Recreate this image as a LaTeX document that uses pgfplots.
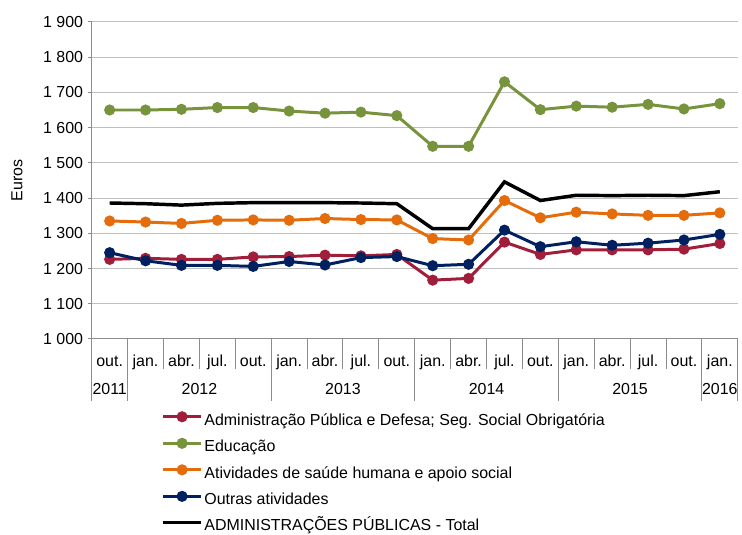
\documentclass[border=0pt]{standalone}
\usepackage{pgfplots}
\pgfplotsset{compat=1.18}
\usepackage{fontspec}
\setmainfont{Liberation Sans}
\definecolor{cRed}{RGB}{160,30,58}
\definecolor{cGreen}{RGB}{119,147,60}
\definecolor{cOrange}{RGB}{228,108,10}
\definecolor{cBlue}{RGB}{0,32,96}
\definecolor{cGrid}{RGB}{191,191,191}
\definecolor{cAxis}{RGB}{140,140,140}
\newcommand{\fs}{\fontsize{12}{14.4}\selectfont}
\begin{document}
\begin{tikzpicture}
\begin{axis}[
  name=ax,
  at={(0,0)}, anchor=south west,
  scale only axis,
  width=486pt, height=238.5pt,
  xmin=-0.5, xmax=17.5,
  ymin=1000, ymax=1900,
  ytick={1000,1100,...,1900},
  yticklabels={1 000,1 100,1 200,1 300,1 400,1 500,1 600,1 700,1 800,1 900},
  xtick={0,...,17},
  xticklabels={out.,jan.,abr.,jul.,out.,jan.,abr.,jul.,out.,jan.,abr.,jul.,out.,jan.,abr.,jul.,out.,jan.},
  minor xtick={-0.5,0.5,...,17.5},
  major x tick style={draw=none},
  minor x tick style={draw=cAxis, line width=0.75pt},
  minor tick length=22.5pt,
  major tick length=3pt,
  tick align=outside,
  ytick style={draw=cAxis, line width=0.75pt},
  axis x line*=bottom, axis y line*=left,
  axis line style={draw=cAxis, line width=0.75pt, -},
  ymajorgrids,
  grid style={draw=cGrid, line width=0.75pt},
  tick label style={font=\fs},
  xticklabel style={anchor=base, yshift=-18pt},
  yticklabel style={anchor=east},
  ylabel={Euros},
  label style={font=\fs},
  ylabel style={at={(axis description cs:-0.1157,0.5)}, anchor=center, rotate=0},
  clip=false,
  legend style={font=\fs, draw=none, fill=none, inner sep=0pt,
    at={(axis description cs:0.108,-0.232)}, anchor=north west,
    legend cell align=left, row sep=8pt, column sep=1.5pt,
    nodes={inner sep=0pt, text height=9pt, text depth=2.5pt}},
  legend image code/.code={\draw[mark repeat=2,mark phase=2] plot coordinates {(0pt,3.2pt) (14pt,3.2pt) (28pt,3.2pt)};},
  every axis plot/.append style={line width=2.25pt, mark=*, mark size=3pt, mark options={solid}},
]
\addplot[cRed, mark options={fill=cRed, draw=cRed}] coordinates {
(0,1226)(1,1229)(2,1226)(3,1226)(4,1233)(5,1234)(6,1238)(7,1236)(8,1240)(9,1167)(10,1172)(11,1275)(12,1240)(13,1253)(14,1253)(15,1253)(16,1255)(17,1271)};
\addlegendentry{Administração Pública e Defesa; Seg. Social Obrigatória}
\addplot[cGreen, mark options={fill=cGreen, draw=cGreen}] coordinates {
(0,1650)(1,1650)(2,1652)(3,1657)(4,1657)(5,1647)(6,1641)(7,1644)(8,1634)(9,1547)(10,1547)(11,1730)(12,1651)(13,1661)(14,1658)(15,1666)(16,1653)(17,1668)};
\addlegendentry{Educação}
\addplot[cOrange, mark options={fill=cOrange, draw=cOrange}] coordinates {
(0,1335)(1,1332)(2,1328)(3,1337)(4,1338)(5,1337)(6,1342)(7,1339)(8,1338)(9,1285)(10,1281)(11,1393)(12,1344)(13,1360)(14,1355)(15,1351)(16,1351)(17,1358)};
\addlegendentry{Atividades de saúde humana e apoio social}
\addplot[cBlue, mark options={fill=cBlue, draw=cBlue}] coordinates {
(0,1245)(1,1222)(2,1209)(3,1209)(4,1206)(5,1220)(6,1210)(7,1231)(8,1234)(9,1208)(10,1212)(11,1309)(12,1262)(13,1276)(14,1266)(15,1272)(16,1281)(17,1297)};
\addlegendentry{Outras atividades}
\addplot[black, line width=2.6pt, mark=none] coordinates {
(0,1386)(1,1384)(2,1380)(3,1385)(4,1387)(5,1387)(6,1387)(7,1386)(8,1384)(9,1313)(10,1313)(11,1446)(12,1393)(13,1408)(14,1407)(15,1408)(16,1407)(17,1418)};
\addlegendentry{ADMINISTRAÇÕES PÚBLICAS - Total}
\pgfplotsinvokeforeach{-0.5,0.5,4.5,8.5,12.5,16.5,17.5}{
  \draw[cAxis, line width=0.75pt] (axis cs:#1,1000) -- ++(0pt,-46.5pt);
}
\node[font=\fs, anchor=base] at ([yshift=-42pt]axis cs:0,1000) {2011};
\node[font=\fs, anchor=base] at ([yshift=-42pt]axis cs:2.5,1000) {2012};
\node[font=\fs, anchor=base] at ([yshift=-42pt]axis cs:6.5,1000) {2013};
\node[font=\fs, anchor=base] at ([yshift=-42pt]axis cs:10.5,1000) {2014};
\node[font=\fs, anchor=base] at ([yshift=-42pt]axis cs:14.5,1000) {2015};
\node[font=\fs, anchor=base] at ([yshift=-42pt]axis cs:17,1000) {2016};
\end{axis}
\path[use as bounding box] (-69pt,-144.75pt) rectangle (487.5pt,255pt);
\end{tikzpicture}
\end{document}
